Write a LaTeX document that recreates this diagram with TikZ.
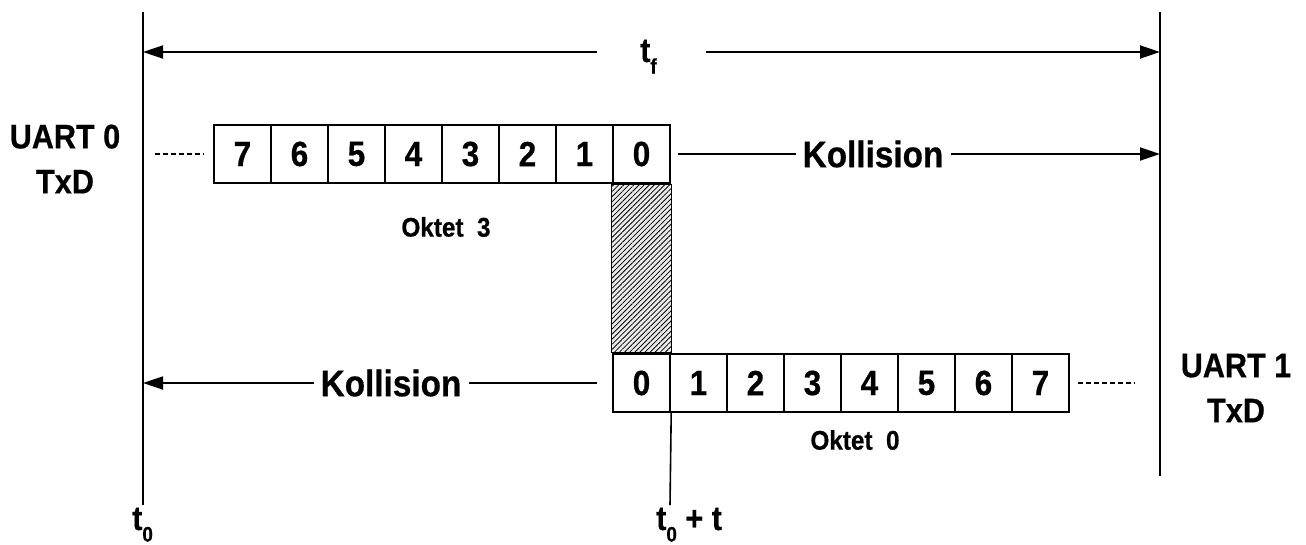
\documentclass[tikz,border=0pt]{standalone}
\usepackage{fontspec}
\setmainfont{Liberation Sans}[FakeStretch=0.9,BoldFeatures={FakeBold=0.6}]
\usetikzlibrary{arrows.meta,patterns.meta}
% lowered subscript used in the time labels
\newcommand\lowsub[1]{\raisebox{-0.34em}{\fontsize{21}{21}\selectfont #1}}
\begin{document}
\begin{tikzpicture}[x=1pt,y=-1pt,
  bitbox/.style={draw,line width=2.4pt,minimum width=57pt,minimum height=58pt,
    inner sep=0pt,font=\bfseries\fontsize{35}{35}\selectfont},
  biglabel/.style={align=center,font=\bfseries\fontsize{34}{45}\selectfont},
  kolltext/.style={inner xsep=7pt,inner ysep=0pt,font=\bfseries\fontsize{37}{37}\selectfont},
  oktlabel/.style={font=\bfseries\fontsize{27}{27}\selectfont},
  timelabel/.style={anchor=base west,inner sep=0pt,font=\bfseries\fontsize{34}{34}\selectfont},
  rule/.style={line width=1.6pt},
  arr/.style={line width=1.8pt,-{Triangle[length=20pt,width=13pt]}},
  dotted line/.style={line width=1.3pt,dash pattern=on 5pt off 3pt}]
\useasboundingbox (0,0) rectangle (1306,544);

% time axis markers
\coordinate (Ltop) at (143,12);
\coordinate (Lbot) at (143,505);
\coordinate (Rtop) at (1160,12);
\coordinate (Rbot) at (1160,476);
\coordinate (Mbot) at (670,505);
\draw[rule] (Ltop) -- (Lbot);
\draw[rule] (Rtop) -- (Rbot);

% frame time t_f
\node[timelabel] (tf) at (640,62) {t\lowsub{f}};
\coordinate (tfL) at (597,52);
\coordinate (tfR) at (706,52);
\draw[arr] (tfL) -- (tfL -| Ltop);
\draw[arr] (tfR) -- (tfR -| Rtop);

% octet 3 sent by UART 0 (bit 7 first on the left)
\foreach \d in {0,...,7}
  \node[bitbox] (u\d) at (641.5-57*\d,154) {\d};
% octet 0 sent by UART 1
\foreach \d in {0,...,7}
  \node[bitbox] (l\d) at (641.5+57*\d,383) {\d};

% overlap of the two bit-0 slots
\fill[fill=black!8] (u0.south west) rectangle (l0.north east);
\fill[pattern={Lines[angle=45,distance=3.6pt,line width=0.8pt]}]
  (u0.south west) rectangle (l0.north east);
\draw[line width=1pt] (u0.south west) rectangle (l0.north east);

% earlier bits
\coordinate (d1) at (155,154);
\draw[dotted line,shorten >=9pt] (d1) -- (u7.west);
\coordinate (d2) at (1135,383);
\draw[dotted line,shorten <=8pt] (l7.east) -- (d2);

% collision arrows
\node[kolltext] (k1) at (873,154) {Kollision};
\coordinate (k1s) at (678,154);
\draw[rule] (k1s) -- (k1.west);
\draw[arr] (k1.east) -- (k1.east -| Rtop);

\node[kolltext] (k2) at (391,383) {Kollision};
\coordinate (k2e) at (597,383);
\draw[rule] (k2e) -- (k2.east);
\draw[arr] (k2.west) -- (k2.west -| Ltop);

% octet names
\node[oktlabel] (o3) at (446,227) {Oktet\ \ 3};
\node[oktlabel] (o0) at (855,440) {Oktet\ \ 0};

% transmitters
\node[biglabel] (uart0) at (65,159) {UART 0\\TxD};
\node[biglabel] (uart1) at (1236,388) {UART 1\\TxD};

% collision instant
\draw[rule] (l0.south east) -- (Mbot);
\node[timelabel] (t0) at (132,530) {t\lowsub{0}};
\node[timelabel] (t0t) at (656,530) {t\lowsub{0} + t};
\end{tikzpicture}
\end{document}
